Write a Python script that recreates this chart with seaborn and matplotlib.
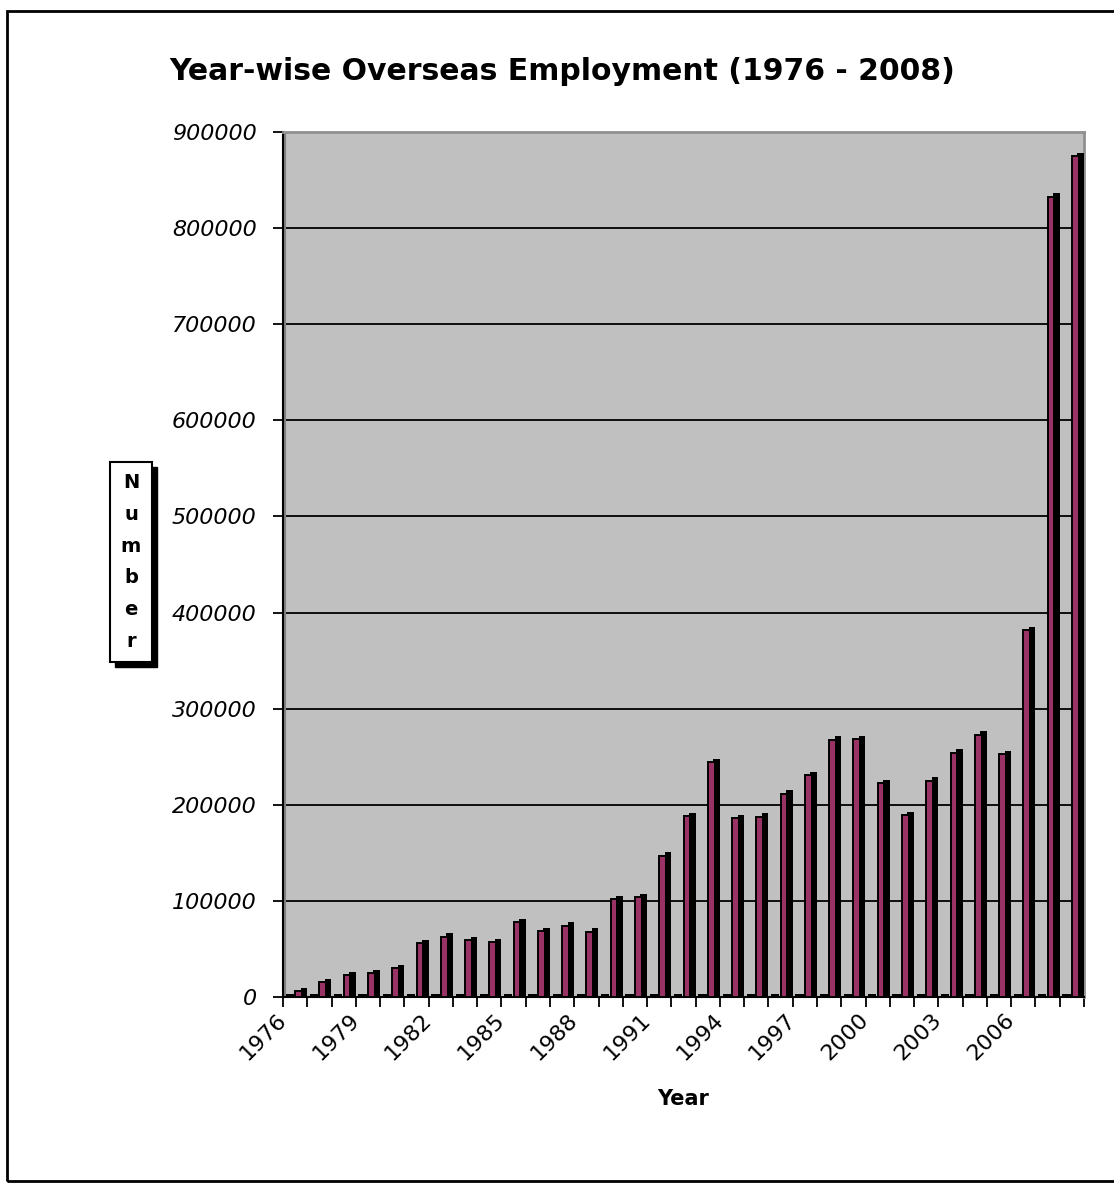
import numpy as np
import seaborn as sns
import matplotlib.pyplot as plt
from matplotlib.patches import Rectangle
from matplotlib import transforms

# Year-wise overseas employment
years = list(range(1976, 2009))
employment = [6087, 15725, 22809, 24495, 30073, 55787, 62762, 59220, 56714, 77694,
              68658, 74017, 68121, 101724, 103814, 147131, 188124, 244508, 186326, 187543,
              211714, 231077, 267667, 268182, 222686, 188965, 225256, 254190, 272958, 252702,
              381516, 832609, 875055]
y_ticks = [0, 100000, 200000, 300000, 400000, 500000, 600000, 700000, 800000, 900000]
label_step = 3

W, H = 1114, 1184
sns.set_theme(style="white")
plt.rcParams['font.family'] = ['DejaVu Sans']
plt.rcParams.update({'text.color': 'black', 'axes.labelcolor': 'black',
                     'xtick.color': 'black', 'ytick.color': 'black'})

fig = plt.figure(figsize=(W / 100, H / 100), dpi=100)
ax = fig.add_axes([283 / W, (H - 997) / H, (1084 - 283) / W, (997 - 132) / H])
ax.set_facecolor('#C0C0C0')

yr = np.array(years, dtype=float)
vals = np.array(employment, dtype=float)

"3D look: black side/top behind, magenta front face, thin slab for the empty series"
sns.barplot(x=yr + 0.28, y=np.full(len(yr), 3000.0), native_scale=True, width=0.34,
            color='black', saturation=1, errorbar=None, ax=ax, zorder=3,
            edgecolor='black', linewidth=0)
sns.barplot(x=yr + 0.86, y=vals + 3500, native_scale=True, width=0.27,
            color='black', saturation=1, errorbar=None, ax=ax, zorder=3,
            edgecolor='black', linewidth=0)
sns.barplot(x=yr + 0.64, y=vals, native_scale=True, width=0.28,
            color='#993366', saturation=1, errorbar=None, ax=ax, zorder=4,
            edgecolor='black', linewidth=1.4)

ax.set_xlim(years[0], years[-1] + 1)
ax.set_ylim(0, 900000)

"Gridlines"
for t in y_ticks[1:]:
    ax.axhline(t, color='black', lw=1.3, zorder=1)

ax.set_yticks(y_ticks)
ax.set_yticklabels([str(t) for t in y_ticks], fontsize=16, style='italic')
xt = list(range(years[0], years[-1] + 2))
ax.set_xticks(xt)
ax.set_xticklabels([str(t) if (t - years[0]) % label_step == 0 and t <= years[-1] else ''
                    for t in xt], fontsize=16, rotation=45, ha='right', va='center',
                   rotation_mode='anchor')
shift = transforms.ScaledTranslation(-7 / 100, 0, fig.dpi_scale_trans)
for lbl in ax.get_xticklabels():
    lbl.set_transform(lbl.get_transform() + shift)
ax.tick_params(axis='both', direction='out', length=7, width=1.3, color='black',
               left=True, bottom=True)
ax.tick_params(axis='x', pad=7)
ax.tick_params(axis='y', pad=12)

for s in ['top', 'right']:
    ax.spines[s].set_color('#909090')
    ax.spines[s].set_linewidth(2)
ax.spines['left'].set_color('black')
ax.spines['left'].set_linewidth(1.5)
ax.spines['bottom'].set_color('black')
ax.spines['bottom'].set_linewidth(1.5)
ax.axvline(years[0] + 0.1, color='#808080', lw=1.5, zorder=2)

ax.set_xlabel('Year', fontsize=15, fontweight='bold', labelpad=18)
ax.set_ylabel('')

fig.text(562 / W, 1 - 72 / H, 'Year-wise Overseas Employment (1976 - 2008)',
         ha='center', va='center', fontsize=21.5, fontweight='bold')

"Boxed vertical axis title with drop shadow"
ylab = fig.text(131 / W, 1 - 562 / H, '\n'.join('Number'), ha='center', va='center',
                fontsize=14, fontweight='bold', linespacing=1.85, zorder=3,
                bbox=dict(boxstyle='square,pad=0.55', fc='white', ec='black', lw=1.5))
fig.canvas.draw()
bb = ylab.get_bbox_patch().get_window_extent()
fig.patches.append(Rectangle(((bb.x0 + 5) / W, (bb.y0 - 5) / H), bb.width / W, bb.height / H,
                             transform=fig.transFigure, fc='black', ec='black', zorder=1))

"Outer chart border"
fig.patches.append(Rectangle((7 / W, 1 - 1181 / H), 1.2, (1181 - 11) / H,
                             transform=fig.transFigure, fill=False, ec='black', lw=2))

fig.savefig('out.png', dpi=100)
